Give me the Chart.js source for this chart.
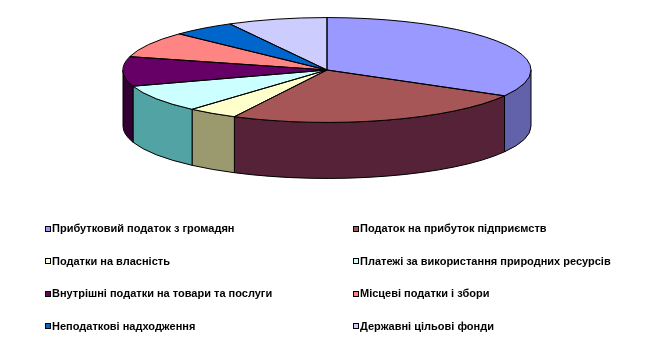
<!DOCTYPE html>
<html><head><meta charset="utf-8">
<script src="https://cdn.jsdelivr.net/npm/chart.js@4.4.0/dist/chart.umd.min.js"></script>
<style>
html,body{margin:0;padding:0;background:#fff;width:662px;height:355px;overflow:hidden;}
#wrap{position:relative;width:662px;height:355px;}
canvas{position:absolute;left:0;top:0;}
#legend{position:absolute;left:0;top:0;width:662px;height:355px;font-family:"Liberation Sans",Arial,sans-serif;font-weight:bold;font-size:11px;color:#000;}
.item{position:absolute;display:flex;align-items:center;white-space:nowrap;line-height:13px;height:13px;}
.sw{width:4px;height:4px;border:1px solid #000;margin-right:1px;flex:none;}
</style></head>
<body><div id="wrap"><canvas id="c" width="662" height="355"></canvas><div id="legend"></div></div>
<script>
const categories = [
  "Прибутковий податок з громадян",
  "Податок на прибуток підприємств",
  "Податки на власність",
  "Платежі за використання природних ресурсів",
  "Внутрішні податки на товари та послуги",
  "Місцеві податки і збори",
  "Неподаткові надходження",
  "Державні цільові фонди"
];
const shares = [33.2, 24.3, 4.0, 8.5, 9.1, 8.0, 5.0, 7.9];
const topColors = ["#9999FF", "#A65656", "#FFFFCC", "#CCFFFF", "#660066", "#FF8585", "#0066CC", "#CCCCFF"];
const sideColors = ["#6262AA", "#552238", "#9A9A6E", "#52A4A4", "#330033", "#AA5555", "#003366", "#8888AA"];

const pie3d = {
  id: 'pie3d',
  beforeDatasetsDraw(chart, args, opts) {
    const ctx = chart.ctx;
    const arcs = chart.getDatasetMeta(0).data;
    const k = opts.tilt, depth = opts.depth;
    arcs.forEach((arc, i) => {
      const p = arc.getProps(['x','y','startAngle','endAngle','outerRadius'], true);
      const a = p.outerRadius, b = p.outerRadius * k;
      const s = Math.max(p.startAngle, 0), e = Math.min(p.endAngle, Math.PI);
      if (e <= s) return;
      ctx.beginPath();
      ctx.ellipse(p.x, p.y, a, b, 0, s, e, false);
      ctx.lineTo(p.x + a * Math.cos(e), p.y + b * Math.sin(e) + depth);
      ctx.ellipse(p.x, p.y + depth, a, b, 0, e, s, true);
      ctx.closePath();
      ctx.fillStyle = sideColors[i];
      ctx.fill();
      ctx.strokeStyle = '#000';
      ctx.lineWidth = 1;
      ctx.stroke();
    });
    ctx.save();
    const y0 = arcs[0].y;
    ctx.translate(0, y0);
    ctx.scale(1, k);
    ctx.translate(0, -y0);
  },
  afterDatasetsDraw(chart, args, opts) {
    const ctx = chart.ctx;
    ctx.restore();
    const arcs = chart.getDatasetMeta(0).data;
    const k = opts.tilt;
    arcs.forEach((arc) => {
      const p = arc.getProps(['x','y','startAngle','endAngle','outerRadius'], true);
      const a = p.outerRadius, b = p.outerRadius * k;
      ctx.beginPath();
      ctx.moveTo(p.x, p.y);
      ctx.lineTo(p.x + a * Math.cos(p.startAngle), p.y + b * Math.sin(p.startAngle));
      ctx.ellipse(p.x, p.y, a, b, 0, p.startAngle, p.endAngle, false);
      ctx.closePath();
      ctx.strokeStyle = '#000';
      ctx.lineWidth = 1;
      ctx.stroke();
    });
  }
};

const chart = new Chart(document.getElementById('c'), {
  type: 'pie',
  data: {
    labels: categories,
    datasets: [{
      data: shares,
      backgroundColor: topColors,
      borderWidth: 0,
      clip: false,
      radius: 204
    }]
  },
  options: {
    responsive: false,
    animation: false,
    events: [],
    layout: { padding: { left: 0, right: 8, top: 0, bottom: 215 } },
    plugins: {
      legend: { display: false },
      tooltip: { enabled: false },
      pie3d: { tilt: 0.257, depth: 56 }
    }
  },
  plugins: [pie3d]
});

const legend = document.getElementById('legend');
categories.forEach((name, i) => {
  const item = document.createElement('div');
  item.className = 'item';
  item.style.left = (i % 2 ? 353 : 45) + 'px';
  item.style.top = (222 + Math.floor(i / 2) * 32.6) + 'px';
  const sw = document.createElement('span');
  sw.className = 'sw';
  sw.style.background = topColors[i];
  const tx = document.createElement('span');
  tx.textContent = name;
  item.appendChild(sw);
  item.appendChild(tx);
  legend.appendChild(item);
});
</script>
</body></html>
